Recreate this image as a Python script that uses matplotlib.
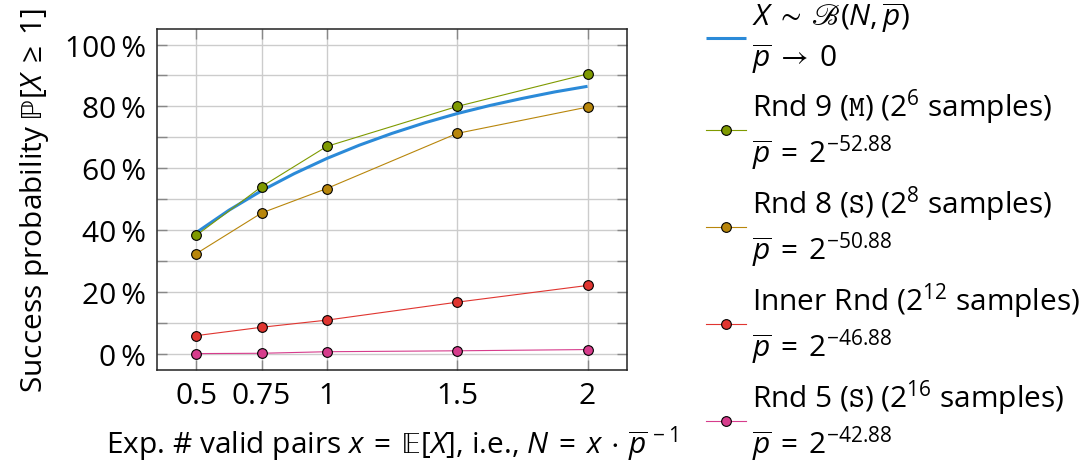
import matplotlib
matplotlib.use("Agg")
import matplotlib.pyplot as plt
from matplotlib.ticker import MultipleLocator, FuncFormatter

plt.rcParams['font.family'] = ['Open Sans', 'DejaVu Sans']
plt.rcParams['mathtext.fontset'] = 'custom'
plt.rcParams['mathtext.rm'] = 'Open Sans'
plt.rcParams['mathtext.it'] = 'Open Sans:italic'
plt.rcParams['mathtext.bf'] = 'Open Sans:bold'
plt.rcParams['mathtext.tt'] = 'cmtt10'
plt.rcParams['mathtext.fallback'] = 'stix'

# ---- data ----
x_vals = [0.5, 0.75, 1, 1.5, 2]
x_ticklabels = ["0.5", "0.75", "1", "1.5", "2"]
rnd9 = [38.4, 54.1, 67.1, 80.0, 90.5]
rnd8 = [32.5, 45.6, 53.5, 71.3, 79.8]
inner = [6.0, 8.7, 11.0, 16.8, 22.2]
rnd5 = [0.2, 0.3, 0.8, 1.1, 1.5]
binom_x = [0.5, 0.625, 0.75, 0.875, 1.0, 1.125, 1.25, 1.375, 1.5, 1.625, 1.75, 1.875, 2.0]
binom_y = [39.3, 46.5, 52.8, 58.3, 63.2, 67.5, 71.3, 74.7, 77.7, 80.3, 82.6, 84.7, 86.5]

lab_binom = "$X \\:\\sim\\: \\mathscr{B}(N, \\overline{p})$\n$\\overline{p} \\:\\to\\: 0$"
lab_rnd9 = "Rnd 9 ($\\mathtt{M}$) (2$^{6}$ samples)\n$\\overline{p} \\:=\\: 2^{-52.88}$"
lab_rnd8 = "Rnd 8 ($\\mathtt{S}$) (2$^{8}$ samples)\n$\\overline{p} \\:=\\: 2^{-50.88}$"
lab_inner = "Inner Rnd (2$^{12}$ samples)\n$\\overline{p} \\:=\\: 2^{-46.88}$"
lab_rnd5 = "Rnd 5 ($\\mathtt{S}$) (2$^{16}$ samples)\n$\\overline{p} \\:=\\: 2^{-42.88}$"

c_blue = "#2b8ad8"
c_green = "#7f9a00"
c_gold = "#b8860b"
c_red = "#e03530"
c_pink = "#d63c8c"

FS = 21.5

fig = plt.figure(figsize=(10.87, 4.64), dpi=100)
ax = fig.add_axes([0.1447, 0.2011, 0.5765 - 0.1447, 0.9353 - 0.2011])

ax.plot(binom_x, binom_y, color=c_blue, lw=2.2, label=lab_binom, zorder=3, solid_capstyle='butt')
mk = dict(marker='o', markersize=7, markeredgecolor='black', markeredgewidth=0.8, lw=0.8)
ax.plot(x_vals, rnd9, color=c_green, markerfacecolor=c_green, label=lab_rnd9, zorder=4, **mk)
ax.plot(x_vals, rnd8, color=c_gold, markerfacecolor=c_gold, label=lab_rnd8, zorder=4, **mk)
ax.plot(x_vals, inner, color=c_red, markerfacecolor=c_red, label=lab_inner, zorder=4, **mk)
ax.plot(x_vals, rnd5, color=c_pink, markerfacecolor=c_pink, label=lab_rnd5, zorder=4, **mk)

ax.set_xlim(0.35, 2.15)
ax.set_ylim(-5, 105)
ax.set_xticks(x_vals)
ax.set_xticklabels(x_ticklabels)
ax.yaxis.set_major_locator(MultipleLocator(20))
ax.yaxis.set_minor_locator(MultipleLocator(10))
ax.yaxis.set_major_formatter(FuncFormatter(lambda v, p: f"{int(round(v))}\u2009%"))

ax.grid(True, which='both', color='#cccccc', lw=1.0, zorder=0)
ax.set_axisbelow(True)
ax.tick_params(which='both', direction='in', top=True, right=True, length=7,
               width=1.0, color='#888888', labelsize=FS, pad=8)
for s in ax.spines.values():
    s.set_linewidth(1.1)
    s.set_color('#222222')

ax.set_ylabel("Success probability $\\mathrm{\\mathbb{P}}[X \\:\\geq\\: 1]$", fontsize=FS, labelpad=10)
ax.set_xlabel("Exp. # valid pairs $x \\:=\\: \\mathrm{\\mathbb{E}}[X]$, i.e., $N \\:=\\: x \\,\\cdot\\, \\overline{p}^{\\,-1}$",
              fontsize=FS, labelpad=10)

leg = fig.legend(loc='upper left', bbox_to_anchor=(706 / 1087, 1 - 1 / 464),
                 frameon=False, fontsize=FS, borderpad=0, borderaxespad=0,
                 handlelength=1.35, handletextpad=0.2, labelspacing=0.37)

fig.savefig("out.png", dpi=100)
